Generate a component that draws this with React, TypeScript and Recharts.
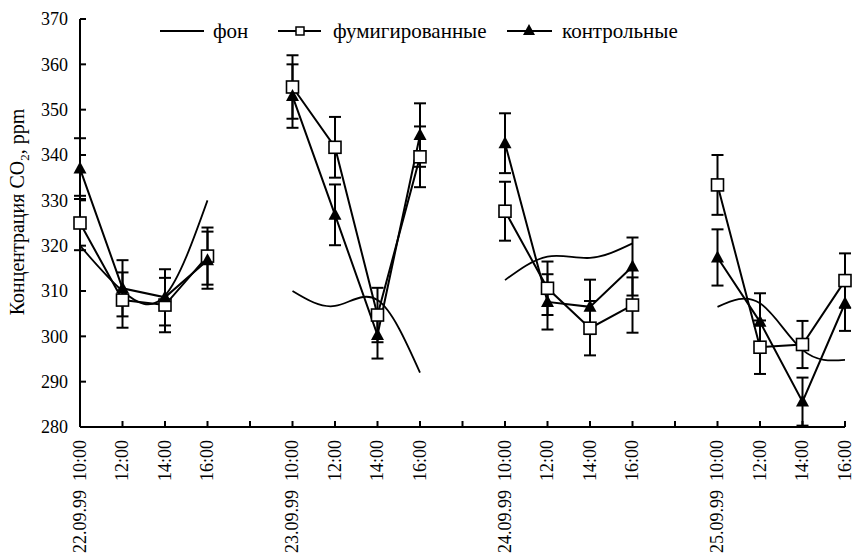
import { LineChart, Line, XAxis, YAxis, ErrorBar, Legend, Label } from "recharts";

// x slots: four days of four readings, one empty slot between days
const dates = ["22.09.99", "", "", "", "", "23.09.99", "", "", "", "", "24.09.99", "", "", "", "", "25.09.99", "", "", ""];
const times = ["10:00", "12:00", "14:00", "16:00", "", "10:00", "12:00", "14:00", "16:00", "", "10:00", "12:00", "14:00", "16:00", "", "10:00", "12:00", "14:00", "16:00"];

const background = [320, 310, 309, 330, null, 310, 306.7, 308, 292, null, 312.4, 317.6, 317.3, 320.5, null, 306.5, 307.3, 297, 294.8];
const fumigated = [325, 308, 306.9, 317.7, null, 355, 341.7, 304.7, 339.6, null, 327.6, 310.6, 301.8, 306.9, null, 333.4, 297.6, 298.2, 312.3];
const fumigatedErr = [6, 6.1, 6, 6.3, null, 7, 6.7, 6, 6.7, null, 6.5, 5.9, 6, 6.1, null, 6.6, 5.9, 5.2, 6];
const control = [337, 310.6, 308.6, 316.8, null, 353, 326.8, 300.3, 344.4, null, 342.6, 307.6, 306.5, 315.4, null, 317.4, 303.2, 285.6, 307.3];
const controlErr = [6.7, 6.2, 6.2, 6.3, null, 7, 6.7, 5.2, 7, null, 6.6, 6.1, 6, 6.4, null, 6.2, 6.3, 5.3, 6.1];

const yTicks = [280, 290, 300, 310, 320, 330, 340, 350, 360, 370];

const data = times.map((t, i) => ({
  slot: i,
  background: background[i],
  fumigated: fumigated[i],
  fumigatedErr: fumigatedErr[i],
  control: control[i],
  controlErr: controlErr[i],
}));

const SERIF = "Liberation Serif, Times New Roman, serif";
const textStyle = { fontFamily: SERIF, fontSize: 18 };
const legendStyle = { fontFamily: SERIF, fontSize: 21 };

const YTick = ({ x, y, payload }: any) => (
  <g>
    <line x1={x} x2={x + 6} y1={y} y2={y} stroke="#000" strokeWidth={2} />
    <text x={x - 12} y={y} dy="0.35em" textAnchor="end" style={textStyle} fill="#000">
      {payload.value}
    </text>
  </g>
);

const XTick = ({ x, y, payload }: any) => {
  const i = payload.value as number;
  return (
    <g transform={`translate(${x},${y})`}>
      <line x1={0} x2={0} y1={0} y2={-6} stroke="#000" strokeWidth={2} />
      {times[i] && (
        <text transform="rotate(-90)" x={-13} y={0} dy="0.33em" textAnchor="end" style={textStyle} fill="#000">
          {times[i]}
        </text>
      )}
      {dates[i] && (
        <text transform="rotate(-90)" x={-63} y={0} dy="0.33em" textAnchor="end" style={textStyle} fill="#000">
          {dates[i]}
        </text>
      )}
    </g>
  );
};

const SquareDot = ({ cx, cy, index }: any) => {
  if (cx == null || cy == null || isNaN(cy)) return <g key={index} />;
  return <rect key={index} x={cx - 6} y={cy - 6} width={12} height={12} fill="#fff" stroke="#000" strokeWidth={1.6} />;
};

const TriangleDot = ({ cx, cy, index }: any) => {
  if (cx == null || cy == null || isNaN(cy)) return <g key={index} />;
  return <polygon key={index} points={`${cx},${cy - 7} ${cx - 6.5},${cy + 5} ${cx + 6.5},${cy + 5}`} fill="#000" />;
};

const renderLegend = () => (
  <svg width={853} height={36} style={{ display: "block" }}>
    <g style={legendStyle} fill="#000">
      <line x1={160} x2={204} y1={17} y2={17} stroke="#000" strokeWidth={2} />
      <text x={213} y={17} dy="0.33em">фон</text>
      <line x1={278} x2={321} y1={17} y2={17} stroke="#000" strokeWidth={2} />
      <rect x={296} y={13} width={8} height={8} fill="#fff" stroke="#000" strokeWidth={1.5} />
      <text x={333} y={17} dy="0.33em">фумигированные</text>
      <line x1={507} x2={552} y1={17} y2={17} stroke="#000" strokeWidth={2} />
      <polygon points="529,10 523,21 535,21" fill="#000" />
      <text x={562} y={17} dy="0.33em">контрольные</text>
    </g>
  </svg>
);

const renderYLabel = () => (
  <text
    x={17}
    y={212}
    transform="rotate(-90, 17, 212)"
    textAnchor="middle"
    dy="0.35em"
    style={{ fontFamily: SERIF, fontSize: 20 }}
    fill="#000"
  >
    Концентрация CO
    <tspan style={{ fontSize: 13 }} dy={5}>2</tspan>
    <tspan dy={-5}>, ppm</tspan>
  </text>
);

export default function App() {
  return (
    <div style={{ position: "absolute", left: 0, top: 0, background: "#fff" }}>
      <LineChart width={853} height={556} data={data} margin={{ top: 19, right: 8, bottom: 0, left: 20 }}>
        <XAxis
          dataKey="slot"
          type="category"
          interval={0}
          height={129}
          tickSize={0}
          tickMargin={0}
          tickLine={false}
          axisLine={{ stroke: "#000", strokeWidth: 2 }}
          tick={<XTick />}
        />
        <YAxis
          domain={[280, 370]}
          ticks={yTicks}
          width={60}
          tickSize={0}
          tickMargin={0}
          tickLine={false}
          axisLine={{ stroke: "#000", strokeWidth: 2 }}
          tick={<YTick />}
        >
          <Label content={renderYLabel} />
        </YAxis>
        <Legend
          content={renderLegend}
          layout="horizontal"
          verticalAlign="middle"
          align="center"
          wrapperStyle={{ top: 14, left: 0, width: 853, height: 36 }}
        />
        <Line
          dataKey="background"
          name="фон"
          type="natural"
          stroke="#000"
          strokeWidth={1.8}
          dot={false}
          isAnimationActive={false}
        />
        <Line
          dataKey="fumigated"
          name="фумигированные"
          type="linear"
          stroke="#000"
          strokeWidth={2}
          dot={<SquareDot />}
          isAnimationActive={false}
        >
          <ErrorBar dataKey="fumigatedErr" width={6} stroke="#000" strokeWidth={2} isAnimationActive={false} />
        </Line>
        <Line
          dataKey="control"
          name="контрольные"
          type="linear"
          stroke="#000"
          strokeWidth={2}
          dot={<TriangleDot />}
          isAnimationActive={false}
        >
          <ErrorBar dataKey="controlErr" width={6} stroke="#000" strokeWidth={2} isAnimationActive={false} />
        </Line>
      </LineChart>
    </div>
  );
}
